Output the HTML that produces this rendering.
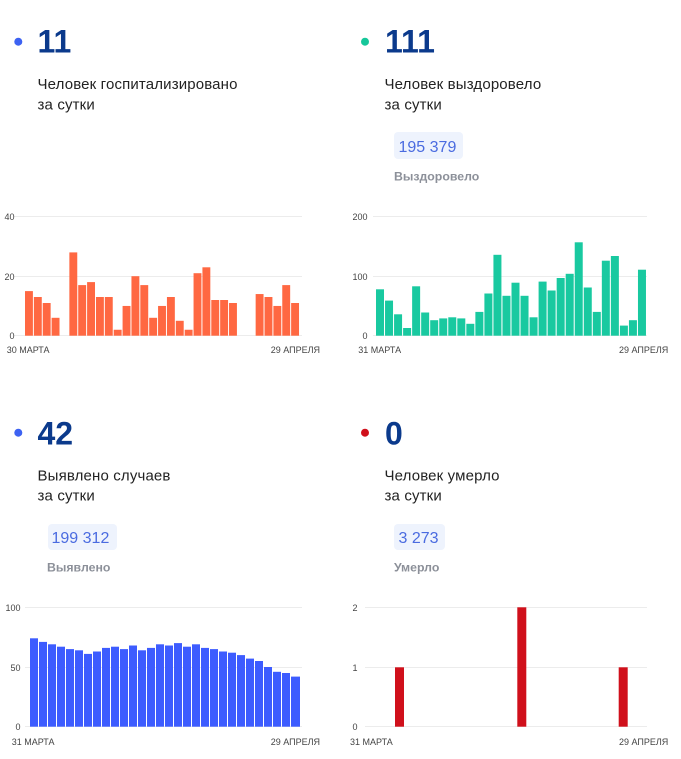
<!DOCTYPE html>
<html><head><meta charset="utf-8"><style>
html,body{margin:0;padding:0;background:#fff;}
svg{display:block;}
text{font-family:"Liberation Sans","DejaVu Sans",sans-serif;}
.big{font-size:32px;font-weight:bold;fill:#0b3a8c;}
.lbl{font-size:15px;fill:#222;letter-spacing:0.15px;}
.badge{fill:#eef3fd;}
.bt{font-size:16px;fill:#4a6be0;}
.sub{font-size:12.3px;font-weight:bold;fill:#8c9099;}
.tk{font-size:9px;fill:#444;}
.g{stroke:#ececec;stroke-width:1;}
</style></head><body>
<svg width="681" height="759" viewBox="0 0 681 759" xmlns="http://www.w3.org/2000/svg">
<!-- Top-left header -->
<circle cx="18.3" cy="41.7" r="4" fill="#3d62f2"/>
<text class="big" x="37.5" y="52.7">11</text>
<text class="lbl" x="37.5" y="89">Человек госпитализировано</text>
<text class="lbl" x="37.5" y="109.3">за сутки</text>

<!-- Top-right header -->
<circle cx="365" cy="41.7" r="4" fill="#16c79a"/>
<text class="big" x="385" y="52.7">111</text>
<text class="lbl" x="384.5" y="89">Человек выздоровело</text>
<text class="lbl" x="384.5" y="109.3">за сутки</text>
<rect class="badge" x="394" y="132" width="69" height="27" rx="4"/>
<text class="bt" x="398.5" y="152">195 379</text>
<text class="sub" x="394" y="180.7">Выздоровело</text>

<!-- Bottom-left header -->
<circle cx="18.3" cy="432.7" r="4" fill="#3d62f2"/>
<text class="big" x="37.5" y="444.3">42</text>
<text class="lbl" x="37.5" y="480.7">Выявлено случаев</text>
<text class="lbl" x="37.5" y="500.7">за сутки</text>
<rect class="badge" x="48" y="524" width="69" height="26" rx="4"/>
<text class="bt" x="51.5" y="543">199 312</text>
<text class="sub" x="47" y="571.7">Выявлено</text>

<!-- Bottom-right header -->
<circle cx="365" cy="432.7" r="4" fill="#d0101b"/>
<text class="big" x="385" y="444.3">0</text>
<text class="lbl" x="384.5" y="480.7">Человек умерло</text>
<text class="lbl" x="384.5" y="500.7">за сутки</text>
<rect class="badge" x="394" y="524" width="51" height="26" rx="4"/>
<text class="bt" x="398.5" y="543">3 273</text>
<text class="sub" x="394" y="571.7">Умерло</text>

<!-- Top-left chart -->
<line class="g" x1="14" x2="302" y1="216.5" y2="216.5"/>
<line class="g" x1="14" x2="302" y1="276.5" y2="276.5"/>
<line class="g" x1="14" x2="302" y1="335.5" y2="335.5"/>
<text class="tk" x="14.5" y="220" text-anchor="end">40</text>
<text class="tk" x="14.5" y="280" text-anchor="end">20</text>
<text class="tk" x="14.5" y="339" text-anchor="end">0</text>
<g fill="#ff6842">
<rect x="25.00" y="291.1" width="7.9" height="44.6"/>
<rect x="33.87" y="297.0" width="7.9" height="38.7"/>
<rect x="42.74" y="303.0" width="7.9" height="32.7"/>
<rect x="51.61" y="317.8" width="7.9" height="17.9"/>
<rect x="69.36" y="252.4" width="7.9" height="83.3"/>
<rect x="78.23" y="285.1" width="7.9" height="50.6"/>
<rect x="87.10" y="282.1" width="7.9" height="53.6"/>
<rect x="95.97" y="297.0" width="7.9" height="38.7"/>
<rect x="104.84" y="297.0" width="7.9" height="38.7"/>
<rect x="113.71" y="329.75" width="7.9" height="5.95"/>
<rect x="122.58" y="305.95" width="7.9" height="29.75"/>
<rect x="131.45" y="276.2" width="7.9" height="59.5"/>
<rect x="140.32" y="285.1" width="7.9" height="50.6"/>
<rect x="149.19" y="317.8" width="7.9" height="17.9"/>
<rect x="158.07" y="305.95" width="7.9" height="29.75"/>
<rect x="166.94" y="297.0" width="7.9" height="38.7"/>
<rect x="175.81" y="320.8" width="7.9" height="14.9"/>
<rect x="184.68" y="329.75" width="7.9" height="5.95"/>
<rect x="193.55" y="273.2" width="7.9" height="62.5"/>
<rect x="202.42" y="267.3" width="7.9" height="68.4"/>
<rect x="211.29" y="300.0" width="7.9" height="35.7"/>
<rect x="220.16" y="300.0" width="7.9" height="35.7"/>
<rect x="229.03" y="303.0" width="7.9" height="32.7"/>
<rect x="255.65" y="294.05" width="7.9" height="41.65"/>
<rect x="264.52" y="297.0" width="7.9" height="38.7"/>
<rect x="273.39" y="305.95" width="7.9" height="29.75"/>
<rect x="282.26" y="285.1" width="7.9" height="50.6"/>
<rect x="291.13" y="303.0" width="7.9" height="32.7"/>
</g>
<text class="tk" x="6.7" y="353">30 МАРТА</text>
<text class="tk" x="320" y="353" text-anchor="end">29 АПРЕЛЯ</text>

<!-- Top-right chart -->
<line class="g" x1="373" x2="647" y1="216.5" y2="216.5"/>
<line class="g" x1="373" x2="647" y1="276.5" y2="276.5"/>
<line class="g" x1="373" x2="647" y1="335.5" y2="335.5"/>
<text class="tk" x="367.5" y="220" text-anchor="end">200</text>
<text class="tk" x="367.5" y="280" text-anchor="end">100</text>
<text class="tk" x="367.5" y="339" text-anchor="end">0</text>
<g fill="#19c9a0">
<rect x="376.00" y="289.3" width="8" height="46.4"/>
<rect x="385.03" y="300.6" width="8" height="35.1"/>
<rect x="394.07" y="314.3" width="8" height="21.4"/>
<rect x="403.10" y="328.0" width="8" height="7.7"/>
<rect x="412.13" y="286.3" width="8" height="49.4"/>
<rect x="421.17" y="312.5" width="8" height="23.2"/>
<rect x="430.20" y="320.2" width="8" height="15.5"/>
<rect x="439.23" y="318.4" width="8" height="17.3"/>
<rect x="448.27" y="317.3" width="8" height="18.4"/>
<rect x="457.30" y="318.4" width="8" height="17.3"/>
<rect x="466.33" y="323.8" width="8" height="11.9"/>
<rect x="475.37" y="311.9" width="8" height="23.8"/>
<rect x="484.40" y="293.5" width="8" height="42.2"/>
<rect x="493.43" y="254.8" width="8" height="80.9"/>
<rect x="502.47" y="295.8" width="8" height="39.9"/>
<rect x="511.50" y="282.7" width="8" height="53.0"/>
<rect x="520.53" y="295.8" width="8" height="39.9"/>
<rect x="529.57" y="317.3" width="8" height="18.4"/>
<rect x="538.60" y="281.6" width="8" height="54.1"/>
<rect x="547.63" y="290.5" width="8" height="45.2"/>
<rect x="556.67" y="278.0" width="8" height="57.7"/>
<rect x="565.70" y="273.8" width="8" height="61.9"/>
<rect x="574.73" y="242.3" width="8" height="93.4"/>
<rect x="583.77" y="287.5" width="8" height="48.2"/>
<rect x="592.80" y="311.9" width="8" height="23.8"/>
<rect x="601.83" y="260.7" width="8" height="75.0"/>
<rect x="610.87" y="256.0" width="8" height="79.7"/>
<rect x="619.90" y="325.6" width="8" height="10.1"/>
<rect x="628.93" y="320.2" width="8" height="15.5"/>
<rect x="637.97" y="269.7" width="8" height="66.0"/>
</g>
<text class="tk" x="358.3" y="353">31 МАРТА</text>
<text class="tk" x="668.3" y="353" text-anchor="end">29 АПРЕЛЯ</text>

<!-- Bottom-left chart -->
<line class="g" x1="25" x2="302" y1="607.5" y2="607.5"/>
<line class="g" x1="25" x2="302" y1="667.5" y2="667.5"/>
<line class="g" x1="25" x2="302" y1="726.5" y2="726.5"/>
<text class="tk" x="20.5" y="611" text-anchor="end">100</text>
<text class="tk" x="20.5" y="671" text-anchor="end">50</text>
<text class="tk" x="20.5" y="730" text-anchor="end">0</text>
<g fill="#3d5cff">
<rect x="30" y="638.3" width="8" height="88.4"/>
<rect x="39" y="641.9" width="8" height="84.8"/>
<rect x="48" y="644.3" width="8" height="82.4"/>
<rect x="57" y="646.7" width="8" height="80.0"/>
<rect x="66" y="649.1" width="8" height="77.6"/>
<rect x="75" y="650.3" width="8" height="76.4"/>
<rect x="84" y="653.9" width="8" height="72.8"/>
<rect x="93" y="651.5" width="8" height="75.2"/>
<rect x="102" y="647.9" width="8" height="78.8"/>
<rect x="111" y="646.7" width="8" height="80.0"/>
<rect x="120" y="649.1" width="8" height="77.6"/>
<rect x="129" y="645.5" width="8" height="81.2"/>
<rect x="138" y="650.3" width="8" height="76.4"/>
<rect x="147" y="647.9" width="8" height="78.8"/>
<rect x="156" y="644.3" width="8" height="82.4"/>
<rect x="165" y="645.5" width="8" height="81.2"/>
<rect x="174" y="643.1" width="8" height="83.6"/>
<rect x="183" y="646.7" width="8" height="80.0"/>
<rect x="192" y="644.3" width="8" height="82.4"/>
<rect x="201" y="647.9" width="8" height="78.8"/>
<rect x="210" y="649.1" width="8" height="77.6"/>
<rect x="219" y="651.5" width="8" height="75.2"/>
<rect x="228" y="652.7" width="8" height="74.0"/>
<rect x="237" y="655.1" width="8" height="71.6"/>
<rect x="246" y="658.6" width="8" height="68.1"/>
<rect x="255" y="661.0" width="8" height="65.7"/>
<rect x="264" y="667.0" width="8" height="59.7"/>
<rect x="273" y="671.8" width="8" height="54.9"/>
<rect x="282" y="673.0" width="8" height="53.7"/>
<rect x="291" y="676.6" width="9" height="50.1"/>
</g>
<text class="tk" x="11.7" y="745">31 МАРТА</text>
<text class="tk" x="320" y="745" text-anchor="end">29 АПРЕЛЯ</text>

<!-- Bottom-right chart -->
<line class="g" x1="365" x2="647" y1="607.5" y2="607.5"/>
<line class="g" x1="365" x2="647" y1="667.5" y2="667.5"/>
<line class="g" x1="365" x2="647" y1="726.5" y2="726.5"/>
<text class="tk" x="357.5" y="611" text-anchor="end">2</text>
<text class="tk" x="357.5" y="671" text-anchor="end">1</text>
<text class="tk" x="357.5" y="730" text-anchor="end">0</text>
<g fill="#d0101b">
<rect x="395" y="667.3" width="9" height="59.4"/>
<rect x="517.3" y="607.3" width="9" height="119.4"/>
<rect x="618.7" y="667.3" width="9" height="59.4"/>
</g>
<text class="tk" x="350" y="745">31 МАРТА</text>
<text class="tk" x="668.3" y="745" text-anchor="end">29 АПРЕЛЯ</text>
</svg>
</body></html>
